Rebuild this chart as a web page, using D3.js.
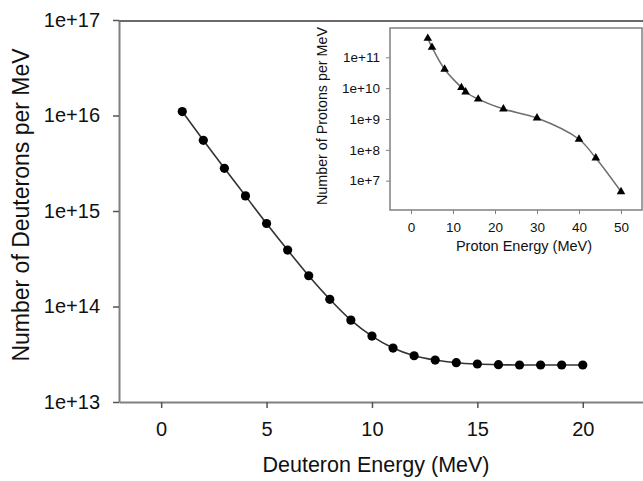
<!DOCTYPE html>
<html>
<head>
<meta charset="utf-8">
<script src="https://cdn.jsdelivr.net/npm/d3@7"></script>
<style>
  body { margin: 0; background: #fff; }
  svg { display: block; font-family: "Liberation Sans", Arial, Helvetica, sans-serif; }
</style>
</head>
<body>
<div id="chart"></div>
<script>
// main plot: deuteron spectrum
const deuteronEnergy = [1, 2, 3, 4, 5, 6, 7, 8, 9, 10, 11, 12, 13, 14, 15, 16, 17, 18, 19, 20]
const deuteronCount = [1.1e16, 5.5e15, 2.8e15, 1.44e15, 7.4e14, 3.9e14, 2.1e14, 1.19e14, 7.2e13, 4.9e13,
  3.67e13, 3.05e13, 2.75e13, 2.58e13, 2.5e13, 2.46e13, 2.44e13, 2.44e13, 2.44e13, 2.44e13]
const mainXTicks = [0, 5, 10, 15, 20]
const mainYTicks = [1e13, 1e14, 1e15, 1e16, 1e17]

// inset: proton spectrum
const protonEnergy = [4, 5, 8, 12, 13, 16, 22, 30, 40, 44, 50]
const protonCount = [4.1e11, 2.1e11, 4.1e10, 1.04e10, 7.5e9, 4.4e9, 2.1e9, 1.07e9, 2.2e8, 5.4e7, 4.4e6]
const insetXTicks = [0, 10, 20, 30, 40, 50]
const insetYTicks = [1e7, 1e8, 1e9, 1e10, 1e11]

const width = 643
const height = 481
const axisColor = '#808080'

const svg = d3.select('#chart')
  .append('svg')
    .attr('width', width)
    .attr('height', height)

const expLabel = d => '1e+' + Math.round(Math.log10(d))

// ---- main plot ----
const x = d3.scaleLinear().domain([-2, 23]).range([119, 646])
const y = d3.scaleLog().domain([1e13, 1e17]).range([402, 20])

const xAxis = svg.append('g')
  .attr('transform', `translate(0,${y(1e13)})`)
  .call(d3.axisBottom(x).tickValues(mainXTicks).tickSize(6).tickPadding(14).tickSizeOuter(0))
xAxis.select('.domain').attr('stroke', axisColor).attr('stroke-width', 2)
xAxis.selectAll('.tick line').attr('stroke', '#555').attr('stroke-width', 1.5)
xAxis.selectAll('.tick text').attr('font-size', 20).attr('fill', '#111')

const yAxis = svg.append('g')
  .attr('transform', `translate(${x(-2)},0)`)
  .call(d3.axisLeft(y).tickValues(mainYTicks).tickFormat(expLabel).tickSize(6).tickPadding(13).tickSizeOuter(0))
yAxis.select('.domain').attr('stroke', axisColor).attr('stroke-width', 2)
yAxis.selectAll('.tick line').attr('stroke', '#555').attr('stroke-width', 1.5)
yAxis.selectAll('.tick text').attr('font-size', 20).attr('fill', '#111')

// top border line
svg.append('line')
  .attr('x1', x(-2)).attr('x2', width)
  .attr('y1', y(1e17) + 1).attr('y2', y(1e17) + 1)
  .attr('stroke', '#6a6a6a').attr('stroke-width', 2)

svg.append('text')
  .attr('x', 376).attr('y', 472)
  .attr('text-anchor', 'middle')
  .attr('font-size', 21.5)
  .attr('fill', '#111')
  .text('Deuteron Energy (MeV)')

svg.append('text')
  .attr('transform', 'translate(29,205) rotate(-90)')
  .attr('text-anchor', 'middle')
  .attr('font-size', 23)
  .attr('fill', '#111')
  .text('Number of Deuterons per MeV')

const mainData = deuteronEnergy.map((e, i) => [e, deuteronCount[i]])

svg.append('path')
  .datum(mainData)
  .attr('fill', 'none')
  .attr('stroke', '#333')
  .attr('stroke-width', 1.6)
  .attr('d', d3.line()
    .x(d => x(d[0]))
    .y(d => y(d[1]))
    .curve(d3.curveMonotoneX)
  )

svg.append('g')
  .selectAll('circle')
  .data(mainData)
  .join('circle')
    .attr('cx', d => x(d[0]))
    .attr('cy', d => y(d[1]))
    .attr('r', 4.6)
    .attr('fill', '#000')

// ---- inset ----
const ix = d3.scaleLinear().domain([-5, 55]).range([390, 642])
const iy = d3.scaleLog().domain([1.12e6, 8.9e11]).range([210, 28])

svg.append('rect')
  .attr('x', 390).attr('y', 28)
  .attr('width', 642 - 390).attr('height', 210 - 28)
  .attr('fill', '#fff')
  .attr('stroke', axisColor)
  .attr('stroke-width', 1.5)

const ixAxis = svg.append('g')
  .attr('transform', 'translate(0,210)')
  .call(d3.axisBottom(ix).tickValues(insetXTicks).tickSize(4).tickPadding(8).tickSizeOuter(0))
ixAxis.select('.domain').remove()
ixAxis.selectAll('.tick line').attr('stroke', axisColor)
ixAxis.selectAll('.tick text').attr('font-size', 13.5).attr('fill', '#111')

const iyAxis = svg.append('g')
  .attr('transform', 'translate(390,0)')
  .call(d3.axisLeft(iy).tickValues(insetYTicks).tickFormat(expLabel).tickSize(4).tickPadding(6).tickSizeOuter(0))
iyAxis.select('.domain').remove()
iyAxis.selectAll('.tick line').attr('stroke', axisColor)
iyAxis.selectAll('.tick text').attr('font-size', 13.5).attr('fill', '#111')

svg.append('text')
  .attr('x', 524).attr('y', 251)
  .attr('text-anchor', 'middle')
  .attr('font-size', 14.5)
  .attr('fill', '#111')
  .text('Proton Energy (MeV)')

svg.append('text')
  .attr('transform', 'translate(327,116) rotate(-90)')
  .attr('text-anchor', 'middle')
  .attr('font-size', 14.3)
  .attr('fill', '#111')
  .text('Number of Protons per MeV')

const insetData = protonEnergy.map((e, i) => [e, protonCount[i]])

svg.append('path')
  .datum(insetData)
  .attr('fill', 'none')
  .attr('stroke', '#6e6e6e')
  .attr('stroke-width', 1.5)
  .attr('d', d3.line()
    .x(d => ix(d[0]))
    .y(d => iy(d[1]))
    .curve(d3.curveCatmullRom.alpha(0.5))
  )

svg.append('g')
  .selectAll('path')
  .data(insetData)
  .join('path')
    .attr('transform', d => `translate(${ix(d[0])},${iy(d[1])})`)
    .attr('d', d3.symbol(d3.symbolTriangle, 32))
    .attr('fill', '#000')
</script>
</body>
</html>
